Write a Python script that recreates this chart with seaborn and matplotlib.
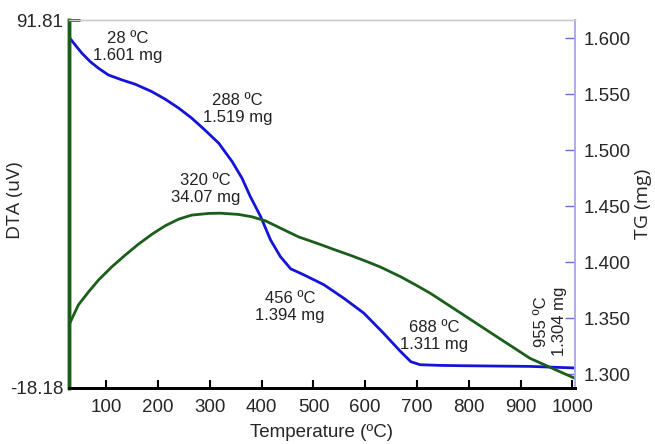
import matplotlib
matplotlib.use("Agg")
import matplotlib.pyplot as plt
import seaborn as sns
import pandas as pd

# ---- data ----
tg_temp = [28, 40, 53, 69, 85, 104, 130, 156, 188, 214, 240, 265, 288, 317, 343,
           362, 378, 398, 417, 436, 456, 481, 520, 558, 597, 635, 668, 688, 706,
           745, 790, 918, 1005]
tg_mass = [1.6010, 1.5940, 1.5866, 1.5791, 1.5732, 1.5672, 1.5628, 1.5589, 1.5523,
           1.5455, 1.5375, 1.5286, 1.5190, 1.5063, 1.4898, 1.4750, 1.4586, 1.4407,
           1.4199, 1.4050, 1.3940, 1.3887, 1.3798, 1.3679, 1.3545, 1.3366, 1.3202,
           1.3110, 1.3083, 1.3077, 1.3074, 1.3068, 1.3054]

dta_temp = [28, 34, 46, 66, 85, 111, 137, 162, 188, 214, 240, 265, 298, 320, 355,
            381, 407, 439, 471, 510, 540, 571, 600, 629, 668, 700, 726, 790, 854,
            918, 983, 1005]
dta_val = [0.65, 2.65, 6.63, 10.6, 14.1, 18.08, 21.6, 24.8, 27.76, 30.33, 32.3,
           33.5, 34.0, 34.07, 33.7, 33.0, 31.8, 29.4, 27.0, 24.9, 23.2, 21.5,
           19.8, 18.0, 15.1, 12.4, 10.1, 3.64, -2.85, -9.3, -13.8, -15.3]

dta_limits = [-18.18, 91.81]
tg_ticks = [1.300, 1.350, 1.400, 1.450, 1.500, 1.550, 1.600]
x_ticks = [100, 200, 300, 400, 500, 600, 700, 800, 900, 1000]

# annotations: (temperature, value, text)
tg_notes = [(142, 1.592, "28 ºC\n1.601 mg"),
            (353, 1.537, "288 ºC\n1.519 mg"),
            (455, 1.360, "456 ºC\n1.394 mg"),
            (733, 1.334, "688 ºC\n1.311 mg")]
dta_notes = [(291, 41.3, "320 ºC\n34.07 mg")]
rot_note = (958, 1.347, "955 ºC\n1.304 mg")

sns.set_theme(style="white")
plt.rcParams['font.family'] = ['Liberation Sans', 'DejaVu Sans']

BLUE = '#1414d8'
GREEN = '#1b5e1b'
LAV = '#aaaaee'

fig = plt.figure(figsize=(6.55, 4.44), dpi=100)
ax = fig.add_axes([69/655, 1 - 388/444, (575-69)/655, (388-20)/444])
ax2 = ax.twinx()

dta_df = pd.DataFrame({"T": dta_temp, "DTA": dta_val})
tg_df = pd.DataFrame({"T": tg_temp, "TG": tg_mass})

sns.lineplot(data=dta_df, x="T", y="DTA", ax=ax, color=GREEN, linewidth=2)
sns.lineplot(data=tg_df, x="T", y="TG", ax=ax2, color=BLUE, linewidth=2)

ax.set_xlim(28, 1005)
ax.set_ylim(*dta_limits)
ax2.set_ylim(1.2875, 1.6163)

ax.set_xticks(x_ticks)
ax.set_yticks(dta_limits)
ax.set_yticklabels([f"{v:.2f}" for v in dta_limits])
ax2.set_yticks(tg_ticks)
ax2.set_yticklabels([f"{v:.3f}" for v in tg_ticks])

ax.tick_params(axis='x', direction='in', length=6, width=1.5, color='black',
               labelsize=13.5, pad=8, bottom=True)
ax.tick_params(axis='y', direction='in', length=8, width=2, color=GREEN,
               labelsize=13.5, pad=4, left=True)
ax2.tick_params(axis='y', direction='in', length=7, width=1, color='#6b6bd0',
                labelsize=13.5, pad=6, right=True)

for a in (ax, ax2):
    a.spines['top'].set_color('#cccccc')
    a.spines['top'].set_linewidth(1)
    a.spines['right'].set_color(LAV)
    a.spines['right'].set_linewidth(1.2)
    a.spines['left'].set_color(GREEN)
    a.spines['left'].set_linewidth(2.5)
    a.spines['bottom'].set_color('black')
    a.spines['bottom'].set_linewidth(2)

ax.set_xlabel("Temperature (ºC)", fontsize=13.5, labelpad=6)
ax.set_ylabel("DTA (uV)", fontsize=14, family=['Open Sans', 'DejaVu Sans'],
              va='center', ha='center')
ax.yaxis.set_label_coords(-0.107, 0.51)
ax2.set_ylabel("TG (mg)", fontsize=14, family=['Open Sans', 'DejaVu Sans'],
               va='center', ha='center')
ax2.yaxis.set_label_coords(1.134, 0.5)

for x, y, t in tg_notes:
    ax2.text(x, y, t, ha='center', va='center', fontsize=12, color='#222222')
for x, y, t in dta_notes:
    ax.text(x, y, t, ha='center', va='center', fontsize=12, color='#222222')
ax2.text(rot_note[0], rot_note[1], rot_note[2], ha='center', va='center',
         fontsize=12, rotation=90, color='#222222')

ax.set_zorder(ax2.get_zorder() + 1)
ax.patch.set_visible(False)

fig.savefig("out.png", dpi=100)
